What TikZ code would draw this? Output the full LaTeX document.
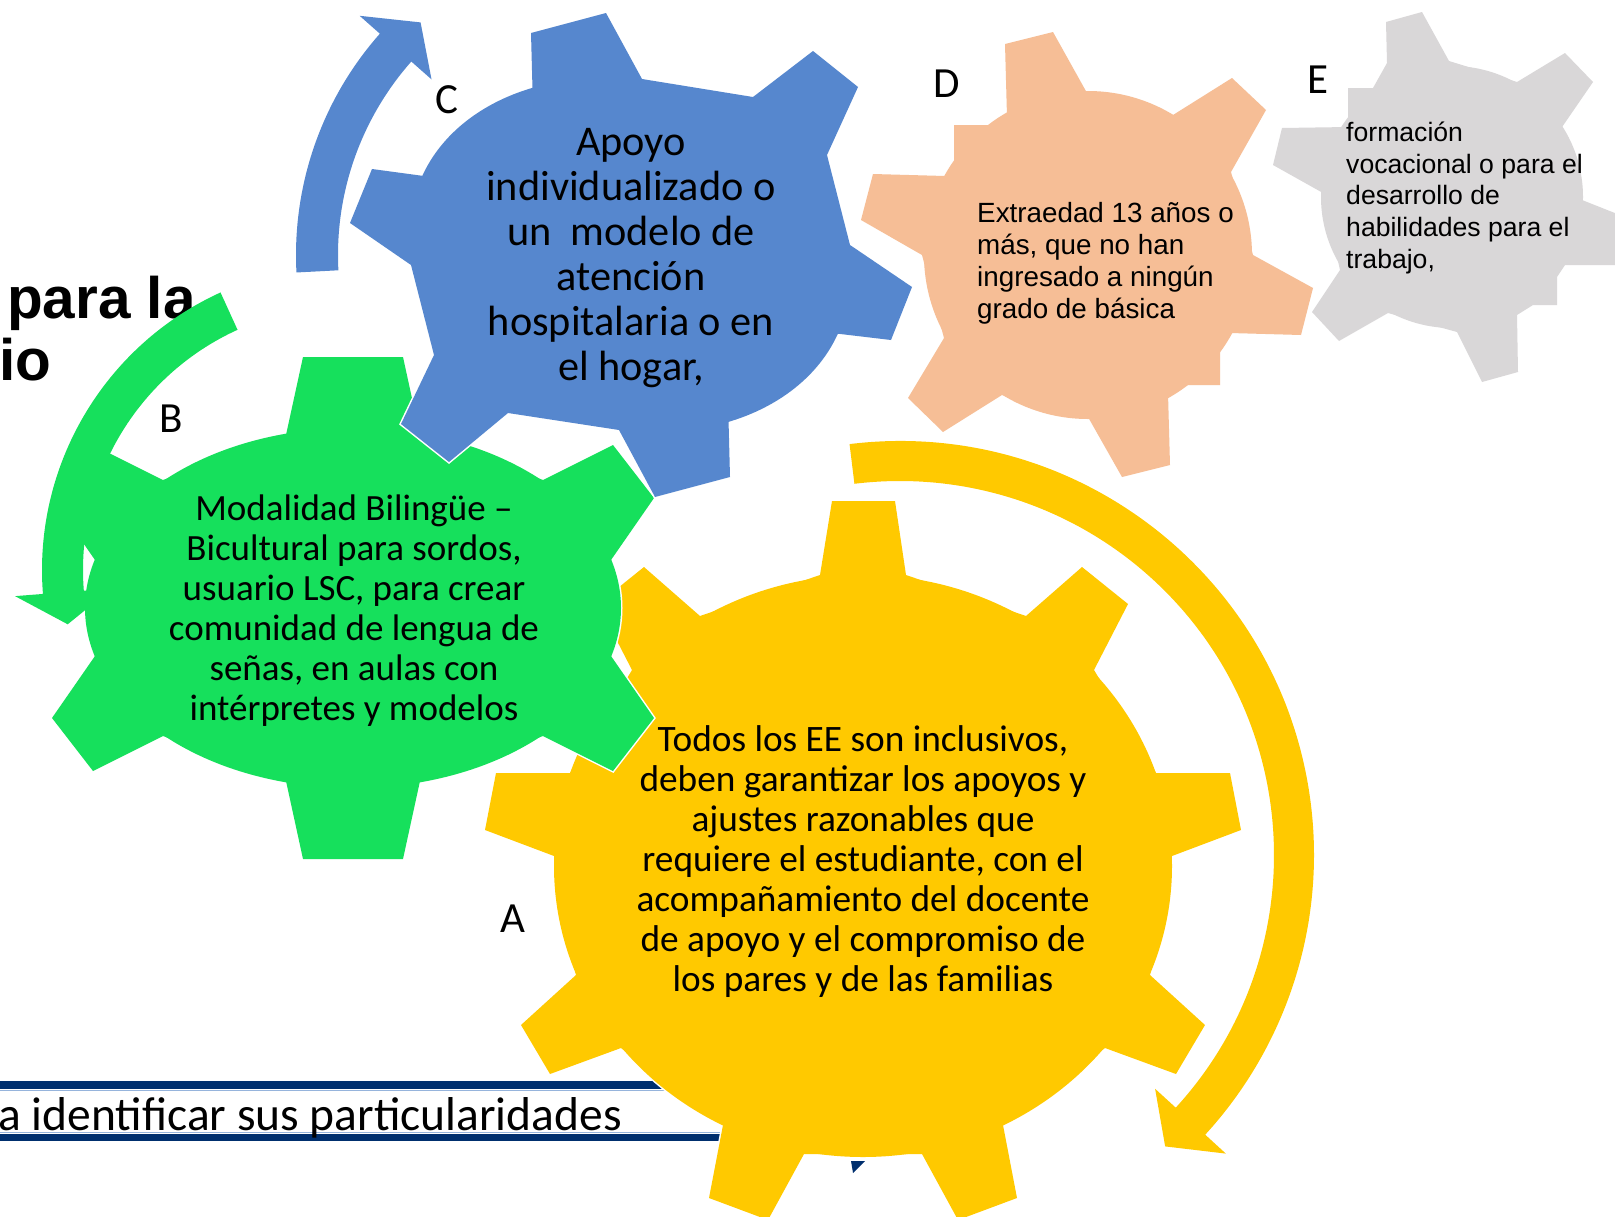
\documentclass[tikz,border=0pt]{standalone}
\usepackage{fontspec}
\setmainfont{Carlito}
\newfontfamily\arialf{Liberation Sans}
\definecolor{gyellow}{RGB}{255,201,0}
\definecolor{ggreen}{RGB}{22,224,92}
\definecolor{gblue}{RGB}{86,135,206}
\definecolor{gpeach}{RGB}{246,190,150}
\definecolor{ggray}{RGB}{217,215,216}
\definecolor{barblue}{RGB}{0,47,110}
\definecolor{barlight}{RGB}{150,180,220}
\tikzset{
  gearedge/.style={draw=white, line width=3pt, line join=miter},
  lbl/.style={font=\fontsize{43}{50}\selectfont, inner sep=0pt, anchor=base west},
  geartext/.style={inner sep=0pt, align=center, anchor=base},
  sidetext/.style={inner sep=0pt, align=left, anchor=base west},
}
\newcommand\gearbody[3]{%
  \path[gearedge] #2 #3;
  \fill[#1] #2;
  \fill[#1] #3;
}
\begin{document}
\begin{tikzpicture}[x=1pt,y=-1pt]
\useasboundingbox (0,0) rectangle (1615,1216);

% background slide pieces
\fill[barblue] (-5,1081) -- (720,1081) -- (720,1089) -- (-5,1089) -- cycle;
\draw[barlight, line width=1.5pt] (-5,1090.5) -- (720,1090.5);
\draw[barlight, line width=1.5pt] (-5,1132.5) -- (760,1132.5);
\fill[barblue] (-5,1134) -- (760,1134) -- (760,1141) -- (-5,1141) -- cycle;
\node[anchor=base east, inner sep=0pt, font=\fontsize{47.5}{50}\selectfont] (bottomtext) at (622,1130) {a identificar sus particularidades};
\fill[barblue] (851,1161) -- (865,1161) -- (853,1173) -- cycle;

% yellow arrow (A)
\begin{scope}[shift={(900,855)}]
\fill[gyellow] (-97:414) arc[start angle=-97, end angle=42.5, radius=414]
  -- (42.5:442) -- (47.7:394) -- (42.5:346) -- (42.5:374)
  arc[start angle=42.5, end angle=-97, radius=374] -- cycle;
\end{scope}

% yellow gear (A)
\gearbody{gyellow}{(863,866) ellipse[x radius=309, y radius=291]}{(820,575) -- (832,501) -- (895,501) -- (906,575) --
 (1026,616) -- (1082,567) -- (1128,604) -- (1094,670) --
 (1156,773) -- (1230,773) -- (1241,830) -- (1172,856) --
 (1150,975) -- (1205,1025) -- (1176,1074) -- (1105,1048) --
 (1003,1125) -- (1017,1198) -- (958,1220) -- (922,1154) --
 (804,1154) -- (768,1220) -- (709,1198) -- (723,1125) --
 (621,1048) -- (550,1074) -- (521,1025) -- (576,975) --
 (554,856) -- (485,830) -- (496,773) -- (570,773) --
 (632,670) -- (598,604) -- (644,567) -- (700,616) -- cycle}
\node[geartext, font=\fontsize{37.3}{40}\selectfont] (atext) at (863,991)
 {Todos los EE son inclusivos,\\deben garantizar los apoyos y\\ajustes razonables que\\requiere el estudiante, con el\\acompañamiento del docente\\de apoyo y el compromiso de\\los pares y de las familias};

% cut-off title text
\node[anchor=base west, inner sep=0pt, font=\arialf\bfseries\fontsize{58.5}{60}\selectfont] (title1) at (7,318) {para la};
\node[anchor=base west, inner sep=0pt, font=\arialf\bfseries\fontsize{58.5}{60}\selectfont] (title2) at (-1,380) {io};

% green gear (B)
\gearbody{ggreen}{(353,608) ellipse[x radius=268, y radius=180]}{(286,435) -- (303,357) -- (403,357) -- (420,435) --
 (543,480) -- (613,445) -- (654,498) -- (611,560) --
 (611,656) -- (654,718) -- (613,771) -- (543,736) --
 (420,781) -- (403,859) -- (303,859) -- (286,781) --
 (163,736) -- (93,771) -- (52,718) -- (95,656) --
 (95,560) -- (52,498) -- (93,445) -- (163,480) -- cycle}
\node[geartext, font=\fontsize{37}{40}\selectfont] (btext) at (354,720)
 {Modalidad Bilingüe –\\Bicultural para sordos,\\usuario LSC, para crear\\comunidad de lengua de\\señas, en aulas con\\intérpretes y modelos};

% green arrow (B)
\begin{scope}[shift={(347,570)}]
\fill[ggreen] (-114.5:305) arc[start angle=-114.5, end angle=-184.5, radius=305]
  -- (-184.5:333) -- (-191:284.5) -- (-184.5:236) -- (-184.5:264)
  arc[start angle=-184.5, end angle=-114.5, radius=264] -- cycle;
\end{scope}

% blue gear (C)
\path[gearedge, rotate around={-15:(630,255)}] (630,255) ellipse[x radius=223, y radius=173];
\path[gearedge] (533,108) -- (531,33) -- (606,13) -- (642,79) --
 (753,97) -- (813,51) -- (858,87) -- (827,155) --
 (850,245) -- (912,287) -- (891,340) -- (815,331) --
 (728,400) -- (730,477) -- (655,497) -- (619,430) --
 (508,413) -- (449,462) -- (401,424) -- (434,355) --
 (411,265) -- (350,223) -- (372,169) -- (446,179) -- cycle;
\fill[gblue, rotate around={-15:(630,255)}] (630,255) ellipse[x radius=223, y radius=173];
\fill[gblue] (533,108) -- (531,33) -- (606,13) -- (642,79) --
 (753,97) -- (813,51) -- (858,87) -- (827,155) --
 (850,245) -- (912,287) -- (891,340) -- (815,331) --
 (728,400) -- (730,477) -- (655,497) -- (619,430) --
 (508,413) -- (449,462) -- (401,424) -- (434,355) --
 (411,265) -- (350,223) -- (372,169) -- (446,179) -- cycle;
\node[geartext, font=\fontsize{42.3}{45}\selectfont] (ctext) at (631,380)
 {Apoyo\\individualizado o\\un~~modelo de\\atención\\hospitalaria o en\\el hogar,};

% blue arrow (C)
\begin{scope}[shift={(630,255)}]
\fill[gblue] (-183:334) arc[start angle=-183, end angle=-138.5, radius=334]
  -- (-138.5:361) -- (-132:313) -- (-138.5:265) -- (-138.5:292)
  arc[start angle=-138.5, end angle=-183, radius=292] -- cycle;
\end{scope}

% peach gear (D)
\gearbody{gpeach}{(1088,255) circle[radius=164]}{(922,255) -- (861,220) -- (873,174) -- (945,176) -- (954,163) -- (954,125) -- (993,125) -- (1007,117) -- (1005,44) -- (1053,32) -- (1087,93) -- (1173,115) -- (1232,78) -- (1266,110) -- (1231,172) -- (1253,255) -- (1313,288) -- (1301,335) -- (1230,333) -- (1220,348) -- (1220,385) -- (1182,385) -- (1168,393) -- (1170,465) -- (1122,477) -- (1088,417) -- (1002,395) -- (943,432) -- (908,398) -- (944,338) -- cycle}
\node[sidetext, font=\arialf\fontsize{27.8}{32}\selectfont] (dtext) at (977,318)
 {Extraedad 13 años o\\más, que no han\\ingresado a ningún\\grado de básica};

% gray gear (E)
\gearbody{ggray}{(1452,197) circle[radius=131]}{(1323,193) -- (1273,165) -- (1282,128) -- (1348,127) -- (1348,88) -- (1373,88) -- (1387,63) -- (1386,22) -- (1422,12) -- (1449,61) -- (1517,82) -- (1565,53) -- (1593,82) -- (1560,130) -- (1582,200) -- (1640,223) -- (1640,265) -- (1565,265) -- (1557,277) -- (1557,305) -- (1533,305) -- (1517,315) -- (1518,372) -- (1482,382) -- (1457,332) -- (1388,313) -- (1339,341) -- (1312,312) -- (1340,270) -- cycle}
\node[sidetext, font=\arialf\fontsize{26.6}{31.6}\selectfont] (etext) at (1346,268)
 {formación\\vocacional o para el\\desarrollo de\\habilidades para el\\trabajo,};

% letter labels
\node[lbl] (la) at (500,932) {A};
\node[lbl] (lb) at (159,432) {B};
\node[lbl] (lc) at (435,113) {C};
\node[lbl] (ld) at (933,97) {D};
\node[lbl] (le) at (1307,93) {E};
\end{tikzpicture}
\end{document}
